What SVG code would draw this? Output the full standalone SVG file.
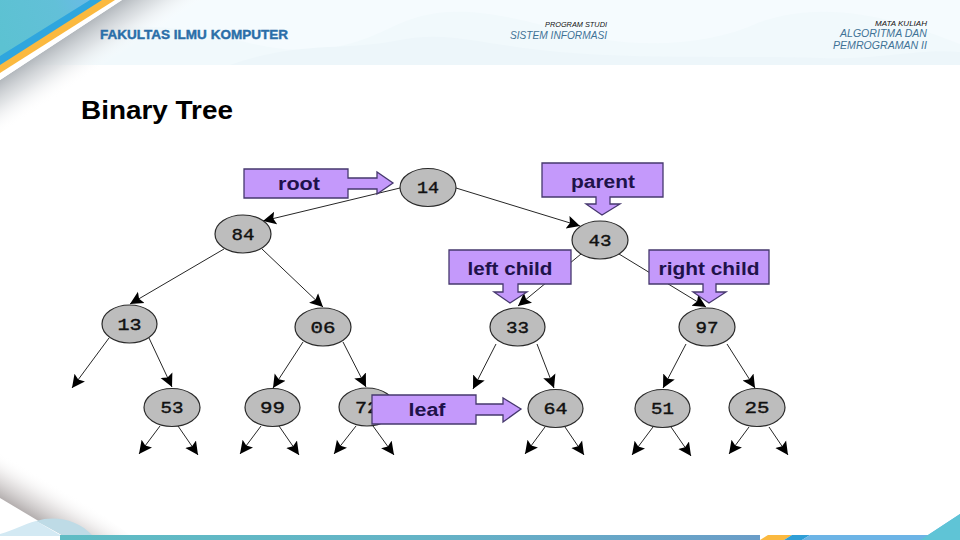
<svg xmlns="http://www.w3.org/2000/svg" width="960" height="540" viewBox="0 0 960 540">
<style>
.n ellipse{fill:#bdbdbd;stroke:#2a2a2a;stroke-width:1.2}
.n text{font-family:"Liberation Mono","DejaVu Sans Mono",monospace;font-size:17px;fill:#111;text-anchor:middle;stroke:#111;stroke-width:.4}
.c path{fill:#c499fb;stroke:#46386e;stroke-width:1.3}
.c text{font-family:"Liberation Sans",Arial,sans-serif;font-weight:700;font-size:18px;fill:#20124a;text-anchor:middle}
#connectors line{stroke:#262626;stroke-width:1;marker-end:url(#ah)}
.h{font-family:"Liberation Sans",Arial,sans-serif;font-style:italic}
.s{font-size:7.500px;fill:#111}
.b{font-size:10.500px;fill:#3f7296}
</style>
<defs>
<marker id="ah" markerUnits="userSpaceOnUse" markerWidth="15" markerHeight="15" refX="13" refY="7" orient="auto"><path d="M0,0.500 L13,7 L0,13.500 L2.500,7Z" fill="#000"/></marker>
<linearGradient id="sh" x1="61" y1="40" x2="86" y2="78" gradientUnits="userSpaceOnUse"><stop offset="0" stop-color="#b3b8bd"/><stop offset=".45" stop-color="#d8dbde" stop-opacity=".75"/><stop offset="1" stop-color="#fff" stop-opacity="0"/></linearGradient>
<linearGradient id="sb" x1="31" y1="516" x2="51" y2="482" gradientUnits="userSpaceOnUse"><stop offset="0" stop-color="#b5b0b0"/><stop offset=".5" stop-color="#e2dfdf" stop-opacity=".75"/><stop offset="1" stop-color="#fff" stop-opacity="0"/></linearGradient>
<linearGradient id="tl" x1="0" y1="40" x2="100" y2="0" gradientUnits="userSpaceOnUse"><stop offset="0" stop-color="#5cc2d2"/><stop offset=".6" stop-color="#62c0d8"/><stop offset="1" stop-color="#6cb9ea"/></linearGradient>
<linearGradient id="bt" x1="60" y1="0" x2="760" y2="0" gradientUnits="userSpaceOnUse"><stop offset="0" stop-color="#5fbcc4"/><stop offset=".5" stop-color="#64b4c6"/><stop offset="1" stop-color="#6a9dc8"/></linearGradient>
</defs>
<rect width="960" height="540" fill="#fff"/>
<g id="header-band">
<rect width="960" height="65" fill="#f5fbfe"/>
<path d="M0,30 C60,40 120,12 230,38 C300,58 340,52 390,28 C430,8 470,4 560,30 C620,48 700,50 760,22 C830,-2 900,20 960,44 V65 H0Z" fill="#f1f9fc"/>
<path d="M230,65 C300,40 340,52 400,40 C450,30 480,45 560,52 C650,60 760,55 820,58 C880,60 920,48 960,52 V65Z" fill="#edf6fa"/>
</g>
<path d="M122,0 L0,80 V150 L230,0Z" fill="url(#sh)"/>
<path d="M0,0 H122 L0,80Z" fill="#fff"/>
<path d="M0,0 H115 L0,73Z" fill="#fbb93f"/>
<path d="M0,0 H102 L0,65Z" fill="#2fa6de"/>
<path d="M0,0 H90 L0,56Z" fill="url(#tl)"/>
<path d="M0,498 L62,535 H130 L0,440Z" fill="url(#sb)"/>
<path d="M0,534 C14,530 24,524 36,521 L62,536 H0Z" fill="#d3e9f3"/>
<path d="M36,521 C56,515 78,520 92,535 H62Z" fill="#bedbe6"/>
<g id="footer-band">
<rect x="60" y="535" width="700" height="5" fill="url(#bt)"/>
<path d="M760,540 L768,535 H792 L784,540Z" fill="#fbb93f"/>
<path d="M784,540 L792,535 H810 L802,540Z" fill="#2f9ed6"/>
<path d="M802,540 L810,535 H928 L960,514 V540Z" fill="#6cb4e6"/>
<path d="M920,540 L928,535 L960,514 V540Z" fill="#5fc4d6"/>
</g>
<text x="100" y="39" textLength="188" lengthAdjust="spacingAndGlyphs" font-family="Liberation Sans, Arial, sans-serif" font-weight="700" font-size="12.500" fill="#2a6ea8" stroke="#2a6ea8" stroke-width=".4">FAKULTAS ILMU KOMPUTER</text>
<text class="h s" x="545" y="26.500" textLength="62" lengthAdjust="spacingAndGlyphs">PROGRAM STUDI</text>
<text class="h b" x="510" y="39" textLength="97" lengthAdjust="spacingAndGlyphs">SISTEM INFORMASI</text>
<text class="h s" x="875" y="25.500" textLength="52" lengthAdjust="spacingAndGlyphs">MATA KULIAH</text>
<text class="h b" x="840" y="37" textLength="87" lengthAdjust="spacingAndGlyphs">ALGORITMA DAN</text>
<text class="h b" x="833" y="49" textLength="94" lengthAdjust="spacingAndGlyphs">PEMROGRAMAN II</text>
<text x="81" y="119" textLength="152" lengthAdjust="spacingAndGlyphs" font-family="Liberation Sans, Arial, sans-serif" font-weight="700" font-size="26.500" fill="#000">Binary Tree</text>
<g id="connectors">
<line x1="400" y1="188" x2="263" y2="221"/>
<line x1="456" y1="188" x2="580" y2="226"/>
<line x1="224" y1="249" x2="130" y2="304"/>
<line x1="262" y1="249" x2="323" y2="307"/>
<line x1="581" y1="254" x2="518" y2="306"/>
<line x1="619" y1="254" x2="706" y2="307"/>
<line x1="109" y1="338" x2="72" y2="388"/>
<line x1="149" y1="338" x2="172" y2="387"/>
<line x1="303" y1="342" x2="273" y2="388"/>
<line x1="343" y1="342" x2="366" y2="387"/>
<line x1="496" y1="344" x2="473" y2="389"/>
<line x1="537" y1="344" x2="554" y2="388"/>
<line x1="686" y1="344" x2="663" y2="388"/>
<line x1="727" y1="344" x2="755" y2="388"/>
<line x1="160" y1="426" x2="139" y2="454"/>
<line x1="178" y1="426" x2="198" y2="455"/>
<line x1="261" y1="426" x2="240" y2="454"/>
<line x1="279" y1="426" x2="299" y2="455"/>
<line x1="356" y1="426" x2="334" y2="454"/>
<line x1="373" y1="426" x2="394" y2="455"/>
<line x1="545" y1="427" x2="525" y2="454"/>
<line x1="565" y1="427" x2="584" y2="455"/>
<line x1="653" y1="427" x2="632" y2="455"/>
<line x1="671" y1="427" x2="691" y2="456"/>
<line x1="749" y1="427" x2="729" y2="454"/>
<line x1="769" y1="427" x2="788" y2="455"/>
</g>
<g id="n14" class="n"><ellipse cx="428" cy="187.500" rx="28" ry="19"/><text x="428" y="193" textLength="22" lengthAdjust="spacingAndGlyphs">14</text></g>
<g id="n84" class="n"><ellipse cx="243" cy="234" rx="28" ry="19"/><text x="243" y="239.500" textLength="23" lengthAdjust="spacingAndGlyphs">84</text></g>
<g id="n43" class="n"><ellipse cx="600" cy="240" rx="28" ry="19"/><text x="600" y="245.500" textLength="23" lengthAdjust="spacingAndGlyphs">43</text></g>
<g id="n13" class="n"><ellipse cx="129.500" cy="324" rx="27.500" ry="19"/><text x="129.500" y="329.500" textLength="24" lengthAdjust="spacingAndGlyphs">13</text></g>
<g id="n06" class="n"><ellipse cx="323" cy="327" rx="28" ry="19"/><text x="323" y="332.500" textLength="25" lengthAdjust="spacingAndGlyphs">06</text></g>
<g id="n33" class="n"><ellipse cx="517.500" cy="327" rx="27.500" ry="19"/><text x="517.500" y="333" textLength="23" lengthAdjust="spacingAndGlyphs">33</text></g>
<g id="n97" class="n"><ellipse cx="707" cy="327" rx="28" ry="19"/><text x="707" y="333" textLength="23" lengthAdjust="spacingAndGlyphs">97</text></g>
<g id="n53" class="n"><ellipse cx="172" cy="407.500" rx="28" ry="19"/><text x="172" y="413" textLength="23" lengthAdjust="spacingAndGlyphs">53</text></g>
<g id="n99" class="n"><ellipse cx="272.500" cy="407.500" rx="27.500" ry="19"/><text x="272.500" y="413" textLength="25" lengthAdjust="spacingAndGlyphs">99</text></g>
<g id="n72" class="n"><ellipse cx="367" cy="407" rx="28" ry="19"/><text x="367" y="412.500" textLength="24" lengthAdjust="spacingAndGlyphs">72</text></g>
<g id="n64" class="n"><ellipse cx="555.500" cy="408.500" rx="27.500" ry="19"/><text x="555.500" y="414" textLength="24" lengthAdjust="spacingAndGlyphs">64</text></g>
<g id="n51" class="n"><ellipse cx="662.500" cy="408.500" rx="27.500" ry="19"/><text x="662.500" y="414" textLength="23" lengthAdjust="spacingAndGlyphs">51</text></g>
<g id="n25" class="n"><ellipse cx="757" cy="407.500" rx="28" ry="19"/><text x="757" y="413" textLength="25" lengthAdjust="spacingAndGlyphs">25</text></g>
<g id="c-root" class="c"><path d="M244,169 H348 V178 H377 V172 L393,183 L377,194 V189 H348 V198 H244Z"/><text x="299" y="190" textLength="42" lengthAdjust="spacingAndGlyphs">root</text></g>
<g id="c-parent" class="c"><path d="M542,163 H663 V197 H610 V204 H620 L602,215 L586,204 H596 V197 H542Z"/><text x="603" y="188" textLength="64" lengthAdjust="spacingAndGlyphs">parent</text></g>
<g id="c-left" class="c"><path d="M449,250 H571 V284 H518 V292 H527 L510,303 L494,292 H503 V284 H449Z"/><text x="510" y="275" textLength="85" lengthAdjust="spacingAndGlyphs">left child</text></g>
<g id="c-right" class="c"><path d="M649,250 H769 V284 H716 V292 H726 L709,303 L693,292 H703 V284 H649Z"/><text x="709" y="275" textLength="101" lengthAdjust="spacingAndGlyphs">right child</text></g>
<g id="c-leaf" class="c"><path d="M372,395 H476 V404 H503 V398 L521,409 L503,422 V415 H476 V424 H372Z"/><text x="427" y="416" textLength="37" lengthAdjust="spacingAndGlyphs">leaf</text></g>
</svg>
